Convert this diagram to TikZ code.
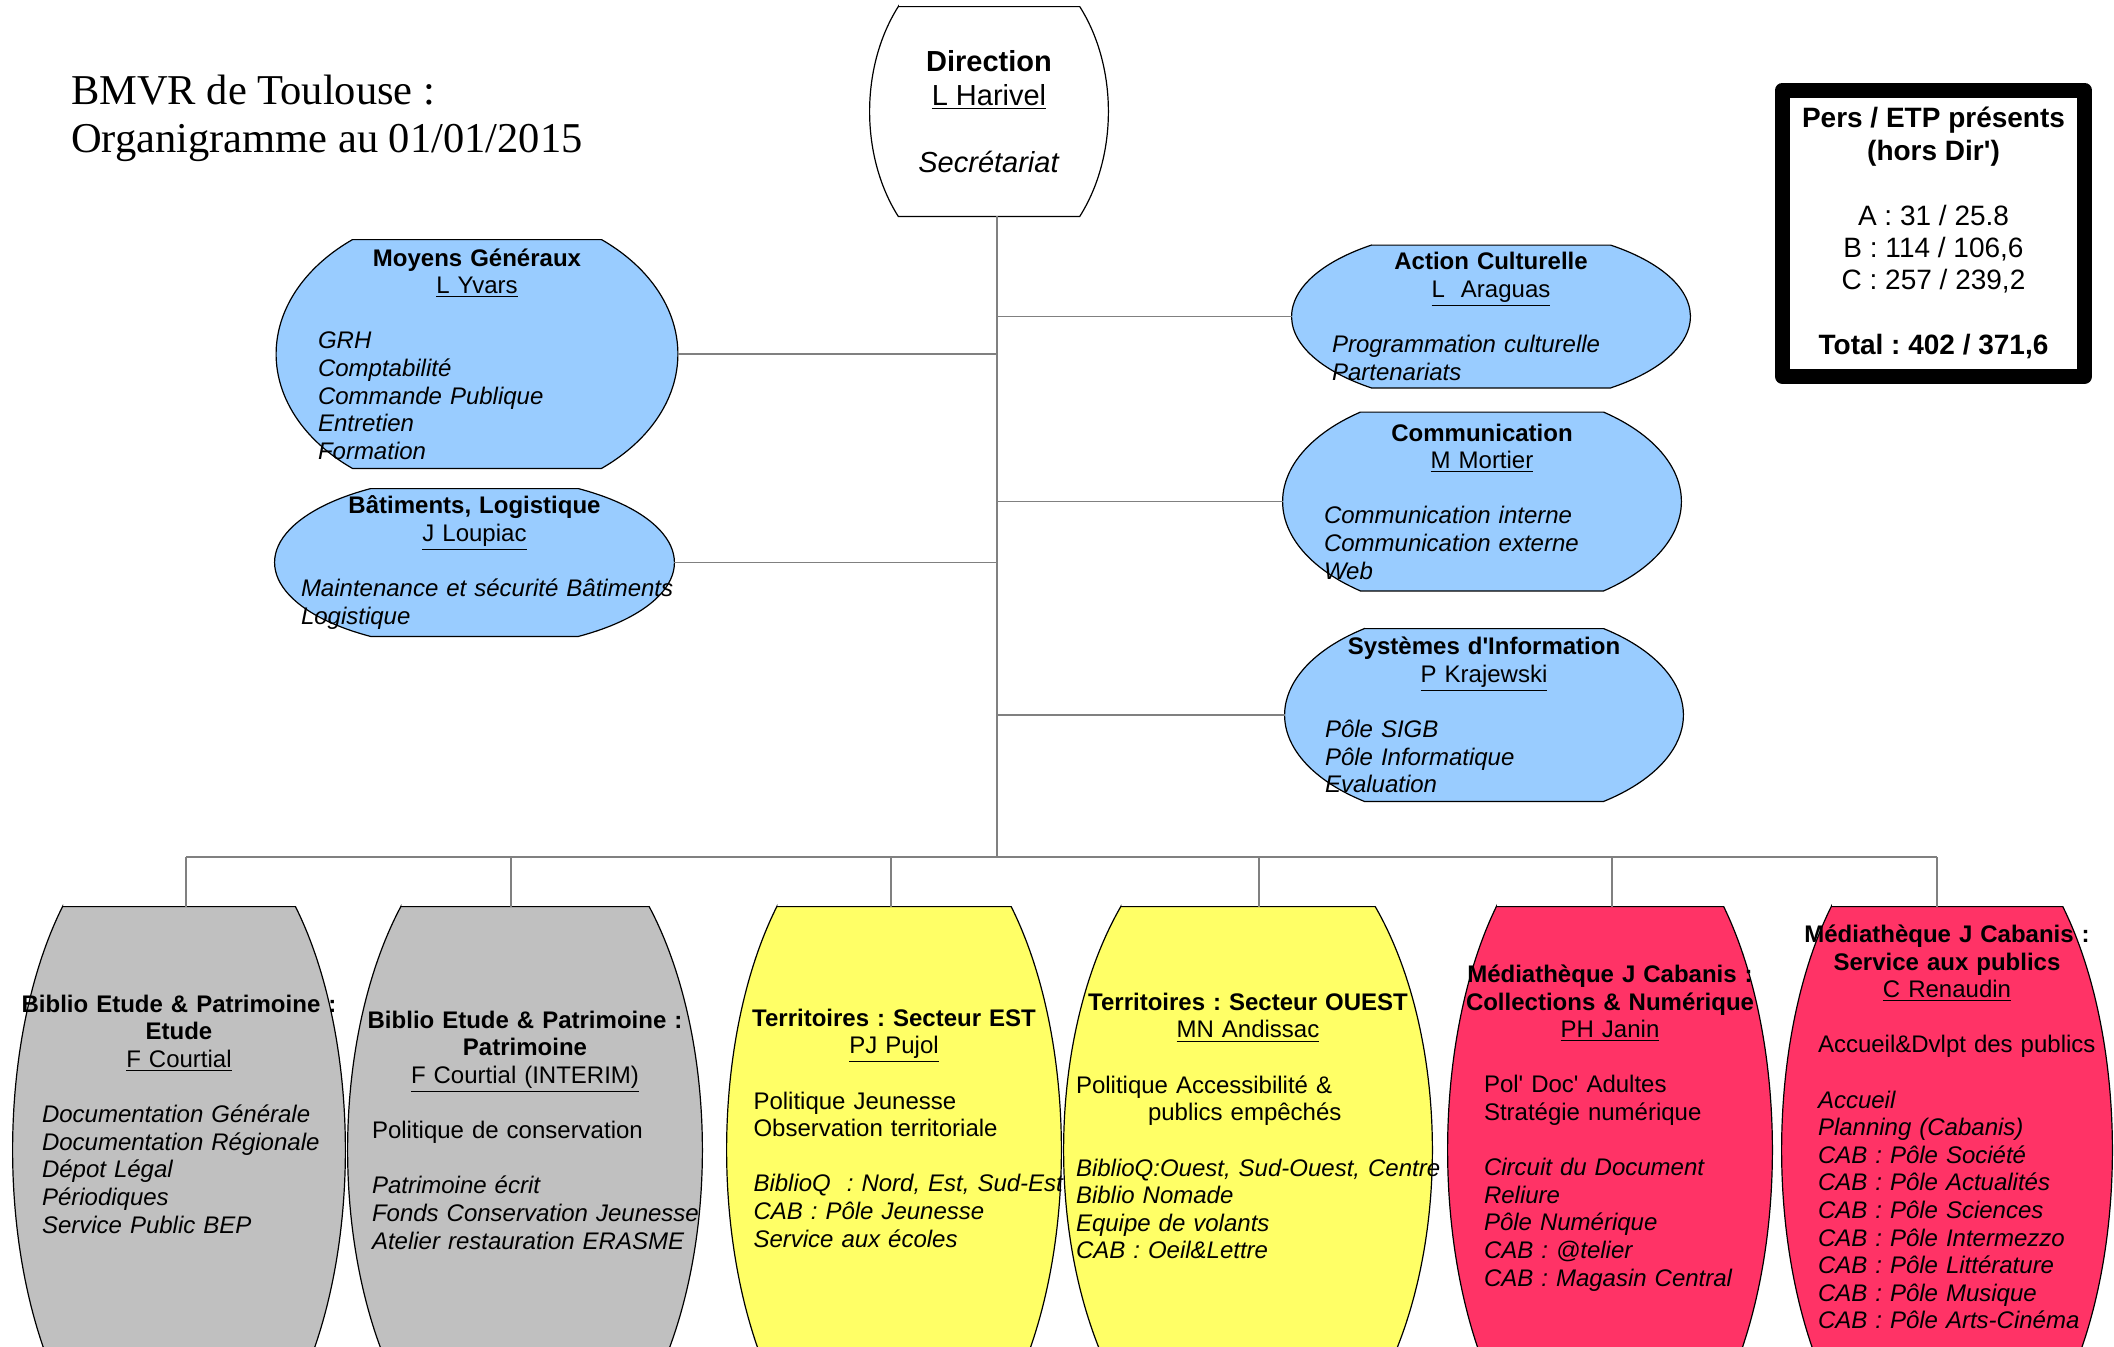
\documentclass[tikz,border=0pt]{standalone}
\usepackage{fontspec}
\setmainfont{Liberation Sans}
\newfontfamily\titlefont{Liberation Serif}
\usepackage{tikz}
\usetikzlibrary{calc,backgrounds}
\definecolor{mgblue}{HTML}{99CCFF}
\definecolor{bepgray}{HTML}{C0C0C0}
\definecolor{teryellow}{HTML}{FFFF66}
\definecolor{cabpink}{HTML}{FF3366}
\frenchspacing
\newcommand{\hd}[1]{\makebox[\linewidth]{#1}}
\def\barrel[#1](#2)(#3){%
	\begin{pgfonlayer}{background}
	\path[draw, line width=0.6pt, #1] let \p1 = (#2.north east), \p2 = (#2.center), \n1 = {acos(#3)}, \n2 = {\x1-\x2}, \n3 = {(\y1-\y2)/sin(\n1)} in
		({\x2-#3*\n2},\y1) -- ({\x2+#3*\n2},\y1)
		arc[start angle=\n1, end angle=-\n1, x radius=\n2, y radius=\n3]
		-- ({\x2-#3*\n2},{2*\y2-\y1})
		arc[start angle=180+\n1, end angle=180-\n1, x radius=\n2, y radius=\n3] -- cycle;
	\end{pgfonlayer}}
\tikzset{
	topbox/.style={inner sep=0pt, align=left, font=\fontsize{12}{13.8}\selectfont},
	lowbox/.style={inner sep=0pt, minimum height=243pt},
	lowtext/.style={inner sep=0pt, align=left, font=\fontsize{12}{13.8}\selectfont},
	dirbox/.style={inner sep=0pt, align=center, minimum width=119pt, minimum height=104.5pt, font=\fontsize{14.5}{16.8}\selectfont},
	etpbox/.style={draw, line width=7.5pt, line join=round, inner sep=0pt, minimum width=151pt, minimum height=143.25pt, align=center, font=\fontsize{14}{16.2}\selectfont},
	link/.style={draw=black!50, line width=0.65pt}
}
\begin{document}
\begin{tikzpicture}[x=0.5pt, y=0.5pt]
	\useasboundingbox (0,0) rectangle (2114,-1346);

	%%%%% TITLE %%%%%
	\node[anchor=base west, align=left, font=\titlefont\fontsize{21.25}{24}\selectfont] (title) at (64,-152) {BMVR de Toulouse :\\Organigramme au 01/01/2015};

	\node[etpbox] (etp) at (1933.5,-233.25) {\textbf{Pers / ETP présents}\\\textbf{(hors Dir\textquotesingle)}\\[16.2pt]A : 31 / 25.8\\B : 114 / 106,6\\C : 257 / 239,2\\[16.2pt]\textbf{Total : 402 / 371,6}};

	%%%%% DIRECTION %%%%%
	\node[dirbox] (dir) at (989,-111.5) {\textbf{Direction}\\\underline{L Harivel}\\[16.8pt]\textit{Secrétariat}};
	\barrel[fill=white](dir)(0.76);

	%%%%% SERVICES %%%%%
	\node[topbox, minimum width=200.5pt, minimum height=114pt, text width=159pt] (mg) at (477,-354) {\hd{\bfseries Moyens Généraux}\\\hd{\underline{L Yvars}}\\[13.8pt]
		\itshape GRH\\Comptabilité\\Commande Publique\\Entretien\\Formation};
	\barrel[fill=mgblue](mg)(0.62);

	\node[topbox, minimum width=199.5pt, minimum height=73.5pt, text width=173.5pt] (bat) at (474.5,-562.5) {\hd{\bfseries Bâtiments, Logistique}\\\hd{\underline{J Loupiac}}\\[13.8pt]
		\itshape \mbox{Maintenance et sécurité Bâtiments}\\Logistique};
	\barrel[fill=mgblue](bat)(0.52);

	\node[topbox, minimum width=199pt, minimum height=71pt, text width=159pt] (ac) at (1491,-316.5) {\hd{\bfseries Action Culturelle}\\\hd{\underline{L\ \ Araguas}}\\[13.8pt]
		\itshape Programmation culturelle\\Partenariats};
	\barrel[fill=mgblue](ac)(0.6);

	\node[topbox, minimum width=199pt, minimum height=89pt, text width=158pt] (com) at (1482,-501.5) {\hd{\bfseries Communication}\\\hd{\underline{M Mortier}}\\[13.8pt]
		\itshape Communication interne\\Communication externe\\Web};
	\barrel[fill=mgblue](com)(0.61);

	\node[topbox, minimum width=199pt, minimum height=86pt, text width=159pt] (si) at (1484,-715) {\hd{\bfseries Systèmes d\textquotesingle Information}\\\hd{\underline{P Krajewski}}\\[13.8pt]
		\itshape Pôle SIGB\\Pôle Informatique\\Evaluation};
	\barrel[fill=mgblue](si)(0.6);

	%%%%% DEPARTEMENTS %%%%%
	\node[lowbox, minimum width=166pt] (etude) at (179,-1150) {};
	\barrel[fill=bepgray](etude)(0.7);
	\node[lowtext, text width=137pt] (etude-t) at (179,-1114) {\hd{\bfseries Biblio Etude \& Patrimoine :}\\\hd{\bfseries Etude}\\\hd{\underline{F Courtial}}\\[13.8pt]
		\itshape \mbox{Documentation Générale}\\\mbox{Documentation Régionale}\\Dépot Légal\\Périodiques\\Service Public BEP};

	\node[lowbox, minimum width=177pt] (patri) at (525,-1150) {};
	\barrel[fill=bepgray](patri)(0.7);
	\node[lowtext, text width=153pt] (patri-t) at (525,-1130) {\hd{\bfseries Biblio Etude \& Patrimoine :}\\\hd{\bfseries Patrimoine}\\\hd{\underline{F Courtial (INTERIM)}}\\[13.8pt]
		Politique de conservation\\[13.8pt]
		\itshape Patrimoine écrit\\\mbox{Fonds Conservation Jeunesse}\\\mbox{Atelier restauration ERASME}};

	\node[lowbox, minimum width=167pt] (est) at (894,-1150) {};
	\barrel[fill=teryellow](est)(0.7);
	\node[lowtext, text width=140.5pt] (est-t) at (894,-1128) {\hd{\bfseries Territoires : Secteur EST}\\\hd{\underline{PJ Pujol}}\\[13.8pt]
		Politique Jeunesse\\Observation territoriale\\[13.8pt]
		\itshape \mbox{BiblioQ\ \ : Nord, Est, Sud-Est}\\CAB : Pôle Jeunesse\\Service aux écoles};

	\node[lowbox, minimum width=184pt] (ouest) at (1248,-1150) {};
	\barrel[fill=teryellow](ouest)(0.69);
	\node[lowtext, text width=172pt] (ouest-t) at (1248,-1126) {\hd{\bfseries Territoires : Secteur OUEST}\\\hd{\underline{MN Andissac}}\\[13.8pt]
		Politique Accessibilité \&\\\hspace*{36pt}publics empêchés\\[13.8pt]
		\itshape \mbox{BiblioQ:Ouest, Sud-Ouest, Centre}\\Biblio Nomade\\Equipe de volants\\CAB : Oeil\&Lettre};

	\node[lowbox, minimum width=162pt] (coll) at (1610,-1150) {};
	\barrel[fill=cabpink](coll)(0.7);
	\node[lowtext, text width=126pt] (coll-t) at (1610,-1128) {\hd{\bfseries Médiathèque J Cabanis :}\\\hd{\bfseries Collections \& Numérique}\\\hd{\underline{PH Janin}}\\[13.8pt]
		Pol\textquotesingle{} Doc\textquotesingle{} Adultes\\Stratégie numérique\\[13.8pt]
		\itshape Circuit du Document\\Reliure\\Pôle Numérique\\CAB : @telier\\\mbox{CAB : Magasin Central}};

	\node[lowbox, minimum width=165pt] (serv) at (1947,-1150) {};
	\barrel[fill=cabpink](serv)(0.7);
	\node[lowtext, text width=129pt] (serv-t) at (1947,-1127) {\hd{\bfseries Médiathèque J Cabanis :}\\\hd{\bfseries Service aux publics}\\\hd{\underline{C Renaudin}}\\[13.8pt]
		\mbox{Accueil\&Dvlpt des publics}\\[13.8pt]
		\itshape Accueil\\Planning (Cabanis)\\CAB : Pôle Société\\CAB : Pôle Actualités\\CAB : Pôle Sciences\\\mbox{CAB : Pôle Intermezzo}\\CAB : Pôle Littérature\\CAB : Pôle Musique\\\mbox{CAB : Pôle Arts-Cinéma}};

	%%%%% LIENS %%%%%
	\coordinate (hub) at (997,-857);
	\draw[link] (dir.south -| hub) -- (hub);
	\foreach \b in {mg,bat} \draw[link] (\b.east) -- (\b.east -| hub);
	\foreach \b in {ac,com,si} \draw[link] (\b.west) -- (\b.west -| hub);
	\draw[link] ([xshift=3.5pt]etude.north |- hub) -- ([xshift=-5pt]serv.north |- hub);
	\foreach \b/\dx in {etude/3.5,patri/-7,est/-1.5,ouest/5.5,coll/1,serv/-5} \draw[link] ([xshift=\dx pt]\b.north |- hub) -- ([xshift=\dx pt]\b.north);
\end{tikzpicture}
\end{document}
